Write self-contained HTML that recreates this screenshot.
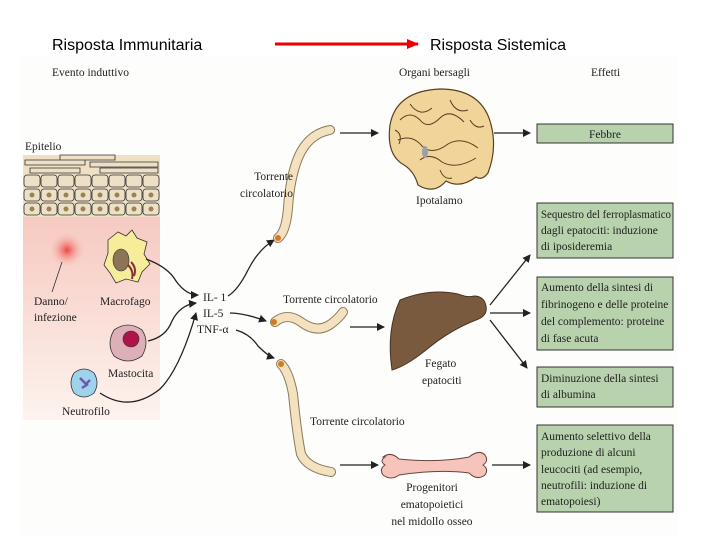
<!DOCTYPE html>
<html><head><meta charset="utf-8"><style>
body{margin:0;background:#fff;}
svg{display:block}
.s{font-family:"Liberation Serif",serif;font-size:11.5px;fill:#222}
.t{font-family:"Liberation Sans",sans-serif;font-size:16px;fill:#000}
</style></head><body>
<svg width="720" height="540" viewBox="0 0 720 540" xmlns="http://www.w3.org/2000/svg">
<defs>
<marker id="a" markerWidth="8" markerHeight="8" refX="7" refY="4" orient="auto" markerUnits="userSpaceOnUse"><path d="M0,0 L8,4 L0,8 Z" fill="#222"/></marker>
<marker id="r" markerWidth="12" markerHeight="12" refX="11" refY="6" orient="auto" markerUnits="userSpaceOnUse"><path d="M0,1 L12,6 L0,11 Z" fill="#e00"/></marker>
<linearGradient id="pk" x1="0" y1="0" x2="0" y2="1"><stop offset="0" stop-color="#f6c9c0"/><stop offset="1" stop-color="#fdf3ee"/></linearGradient>
<radialGradient id="bl"><stop offset="0" stop-color="#ee4444"/><stop offset="1" stop-color="#f6c9c0" stop-opacity="0"/></radialGradient>
</defs>
<rect x="20" y="55" width="658" height="480" fill="#fdfdfb"/>
<text class="t" x="52" y="50">Risposta Immunitaria</text>
<text class="t" x="430" y="50">Risposta Sistemica</text>
<line x1="275" y1="44" x2="418" y2="44" stroke="#e00" stroke-width="3" marker-end="url(#r)"/>
<text class="s" x="52" y="76" font-size="11">Evento induttivo</text>
<text class="s" x="399" y="76" font-size="11">Organi bersagli</text>
<text class="s" x="591" y="76" font-size="11">Effetti</text>
<text class="s" x="25" y="150">Epitelio</text>
<rect x="23" y="215" width="137" height="205" fill="url(#pk)"/>
<rect x="23" y="155" width="137" height="62" fill="#efe0c4"/>
<g stroke="#333" stroke-width="0.8" fill="#ede0c6">
<path d="M25,160 h60 v5 h-60z M60,155 h55 v5 h-55z M90,162 h68 v5 h-68z M30,168 h50 v5 h-50z M100,168 h58 v5 h-58z"/>
<g id="row"><rect x="24" y="175" width="16" height="12" rx="3"/><rect x="41" y="175" width="16" height="12" rx="3"/><rect x="58" y="175" width="16" height="12" rx="3"/><rect x="75" y="175" width="16" height="12" rx="3"/><rect x="92" y="175" width="16" height="12" rx="3"/><rect x="109" y="175" width="16" height="12" rx="3"/><rect x="126" y="175" width="16" height="12" rx="3"/><rect x="143" y="175" width="16" height="12" rx="3"/></g>
<use href="#row" y="14"/><use href="#row" y="28"/>
</g>
<g fill="#9a8450"><circle cx="32" cy="195" r="2.5"/><circle cx="49" cy="195" r="2.5"/><circle cx="66" cy="195" r="2.5"/><circle cx="83" cy="195" r="2.5"/><circle cx="100" cy="195" r="2.5"/><circle cx="117" cy="195" r="2.5"/><circle cx="134" cy="195" r="2.5"/><circle cx="151" cy="195" r="2.5"/>
<circle cx="32" cy="209" r="2.5"/><circle cx="49" cy="209" r="2.5"/><circle cx="66" cy="209" r="2.5"/><circle cx="83" cy="209" r="2.5"/><circle cx="100" cy="209" r="2.5"/><circle cx="117" cy="209" r="2.5"/><circle cx="134" cy="209" r="2.5"/><circle cx="151" cy="209" r="2.5"/></g>
<circle cx="67" cy="250" r="18" fill="url(#bl)"/>
<line x1="62" y1="262" x2="52" y2="292" stroke="#333" stroke-width="0.8"/>
<text class="s" x="34" y="305">Danno/</text><text class="s" x="34" y="321">infezione</text>
<path d="M108,240 l10,-8 l8,4 l6,-6 l5,8 l10,4 l-3,12 l6,10 l-8,8 l-4,10 l-12,-3 l-10,4 l-6,-10 l-6,-8 l4,-12z" fill="#f7ec9a" stroke="#333" stroke-width="0.8"/>
<ellipse cx="121" cy="260" rx="8" ry="11" fill="#8d7456" stroke="#333" stroke-width="0.6"/>
<path d="M128,265 q6,6 4,14 M131,262 q6,6 3,14" stroke="#8a2a3a" stroke-width="2" fill="none"/>
<text class="s" x="100" y="305">Macrofago</text>
<path d="M114,330 q14,-10 28,0 q8,12 0,26 q-14,10 -28,0 q-8,-12 0,-26z" fill="#ddb0b8" stroke="#333" stroke-width="0.8"/>
<circle cx="131" cy="339" r="8" fill="#b0124a" stroke="#333" stroke-width="0.6"/>
<text class="s" x="108" y="377">Mastocita</text>
<path d="M74,373 q10,-8 20,0 q6,10 0,20 q-10,8 -20,0 q-6,-10 0,-20z" fill="#9fd3ec" stroke="#333" stroke-width="0.8"/>
<path d="M80,378 l6,6 l4,-4 M82,388 l6,-4" stroke="#6a5ab0" stroke-width="2.5" fill="none"/>
<text class="s" x="62" y="415">Neutrofilo</text>
<g stroke="#222" stroke-width="1.3" fill="none" marker-end="url(#a)">
<path d="M146,259 q22,8 30,22 q10,14 22,14"/>
<path d="M148,341 q18,-4 24,-20 q8,-16 24,-18"/>
<path d="M100,393 q30,20 60,-4 q20,-20 36,-76"/>
<path d="M228,296 q10,-6 20,-26 q10,-20 26,-30"/>
<path d="M230,313 q14,0 36,8"/>
<path d="M236,330 q14,4 22,16 q10,10 16,12"/>
<path d="M340,133 H378"/><path d="M494,133 H530"/>
<path d="M350,327 H384"/>
<path d="M490,305 L530,255"/><path d="M490,313 H530"/><path d="M490,320 L527,368"/>
<path d="M340,465 H378"/><path d="M492,465 H530"/>
</g>
<text class="s" x="203" y="301">IL- 1</text>
<text class="s" x="203" y="317">IL-5</text>
<text class="s" x="197" y="333">TNF-α</text>
<g fill="none" stroke-linecap="round">
<path d="M278,238 q8,-6 10,-30 q2,-30 10,-50 q10,-24 32,-28" stroke="#8a7a5a" stroke-width="10"/>
<path d="M278,238 q8,-6 10,-30 q2,-30 10,-50 q10,-24 32,-28" stroke="#f3e1c0" stroke-width="8"/>
<path d="M275,322 q12,-10 26,0 q16,12 30,2 q8,-6 12,-12" stroke="#8a7a5a" stroke-width="10"/>
<path d="M275,322 q12,-10 26,0 q16,12 30,2 q8,-6 12,-12" stroke="#f3e1c0" stroke-width="8"/>
<path d="M281,364 q8,8 12,30 q4,40 8,60 q6,14 30,18" stroke="#8a7a5a" stroke-width="10"/>
<path d="M281,364 q8,8 12,30 q4,40 8,60 q6,14 30,18" stroke="#f3e1c0" stroke-width="8"/>
</g>
<circle cx="278" cy="238" r="3" fill="#d47a20"/><circle cx="274" cy="322" r="3" fill="#d47a20"/><circle cx="281" cy="364" r="3" fill="#d47a20"/>
<text class="s" x="293" y="180" text-anchor="end">Torrente</text>
<text class="s" x="293" y="197" text-anchor="end">circolatorio</text>
<text class="s" x="283" y="303">Torrente circolatorio</text>
<text class="s" x="310" y="425">Torrente circolatorio</text>
<path d="M390,125 q6,-34 50,-36 q40,0 50,32 q8,26 -2,52 q-6,8 -12,4 q-16,12 -30,4 q-12,14 -28,4 q-4,-14 -14,-20 q-18,-10 -14,-40z" fill="#f1d49a" stroke="#5a4020" stroke-width="1.2"/>
<path d="M400,120 q10,-10 20,0 q8,10 20,-2 q10,-10 24,4 M398,140 q14,-6 24,6 q10,10 26,-2 q14,-8 30,4 M420,160 q10,-8 22,2 q14,8 34,-4 M410,104 q10,14 22,4 M450,100 q6,14 18,10 M395,130 q8,4 4,14 M470,120 q6,10 14,6 M440,170 q4,10 12,8" stroke="#5a4020" stroke-width="1" fill="none"/>
<ellipse cx="425" cy="152" rx="3" ry="6" fill="#9aa0a8"/>
<text class="s" x="416" y="204">Ipotalamo</text>
<path d="M400,300 q30,-12 58,-6 q10,4 16,2 q10,0 12,10 q2,10 -10,14 q-26,10 -50,30 q-20,16 -34,20 q-6,-40 8,-70z" fill="#7a5a3e" stroke="#4a3422" stroke-width="1"/>
<text class="s" x="425" y="367">Fegato</text><text class="s" x="422" y="384">epatociti</text>
<path d="M383,457 q8,-6 16,2 q40,4 70,-2 q10,-8 16,-2 q4,6 -2,10 q6,4 2,10 q-8,6 -16,-2 q-30,-4 -70,2 q-8,6 -16,0 q-4,-6 2,-10 q-6,-4 0,-8z" fill="#f6c4bb" stroke="#6a4440" stroke-width="1"/>
<text class="s" x="432" y="491" text-anchor="middle">Progenitori</text>
<text class="s" x="432" y="508" text-anchor="middle">ematopoietici</text>
<text class="s" x="432" y="525" text-anchor="middle">nel midollo osseo</text>
<g fill="#b8d2ad" stroke="#333" stroke-width="1">
<rect x="537" y="124" width="136" height="19"/>
<rect x="537" y="203" width="136" height="55"/>
<rect x="537" y="277" width="136" height="73"/>
<rect x="537" y="367" width="136" height="40"/>
<rect x="537" y="425" width="136" height="87"/>
</g>
<text class="s" x="605" y="138" text-anchor="middle">Febbre</text>
<g class="s" font-size="11">
<text x="541" y="218" textLength="130" lengthAdjust="spacingAndGlyphs">Sequestro del ferroplasmatico</text>
<text x="541" y="234">dagli epatociti: induzione</text>
<text x="541" y="250">di iposideremia</text>
<text x="541" y="291">Aumento della sintesi di</text>
<text x="541" y="308">fibrinogeno e delle proteine</text>
<text x="541" y="325">del complemento: proteine</text>
<text x="541" y="342">di fase acuta</text>
<text x="541" y="382">Diminuzione della sintesi</text>
<text x="541" y="398">di albumina</text>
<text x="541" y="440">Aumento selettivo della</text>
<text x="541" y="456">produzione di alcuni</text>
<text x="541" y="473">leucociti (ad esempio,</text>
<text x="541" y="489">neutrofili: induzione di</text>
<text x="541" y="505">ematopoiesi)</text>
</g>
</svg>
</body></html>
